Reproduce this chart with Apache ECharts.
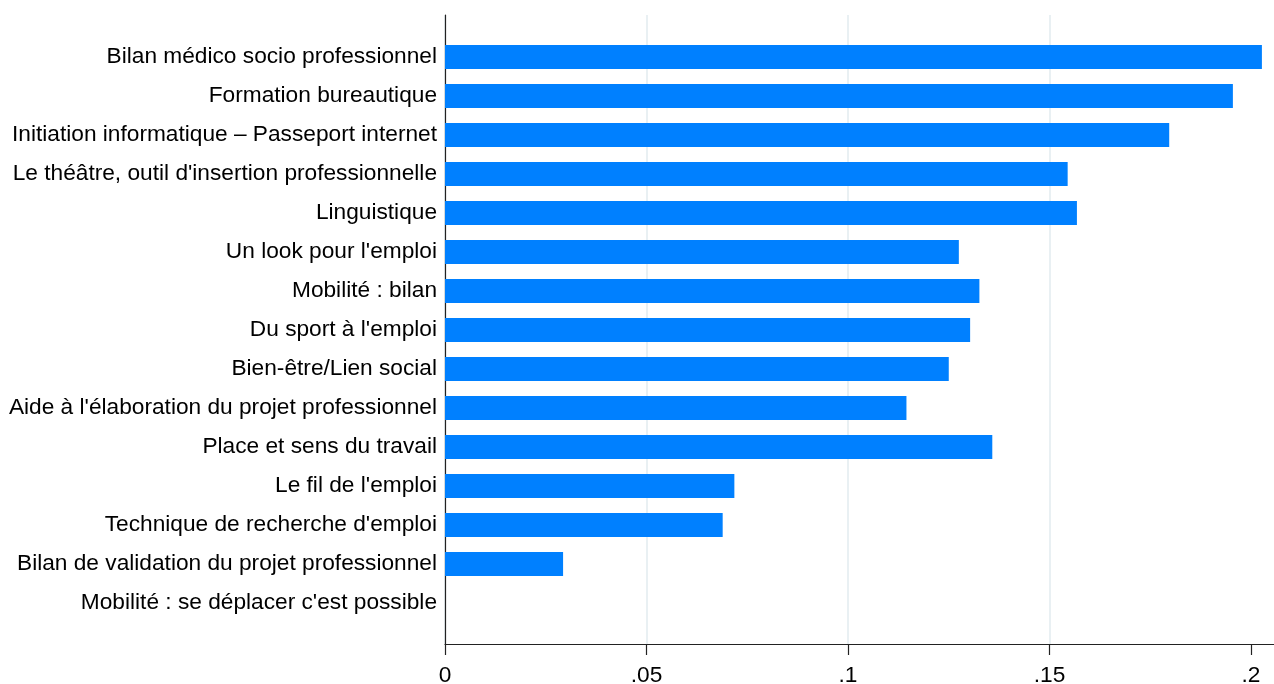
<!DOCTYPE html>
<html>
<head>
<meta charset="utf-8">
<script src="https://cdn.jsdelivr.net/npm/echarts@6/dist/echarts.min.js"></script>
<style>
html,body{margin:0;padding:0;background:#fff;}
#chart{width:1274px;height:684px;}
</style>
</head>
<body>
<div id="chart"></div>
<script>
const categories = [
  "Bilan médico socio professionnel",
  "Formation bureautique",
  "Initiation informatique – Passeport internet",
  "Le théâtre, outil d'insertion professionnelle",
  "Linguistique",
  "Un look pour l'emploi",
  "Mobilité : bilan",
  "Du sport à l'emploi",
  "Bien-être/Lien social",
  "Aide à l'élaboration du projet professionnel",
  "Place et sens du travail",
  "Le fil de l'emploi",
  "Technique de recherche d'emploi",
  "Bilan de validation du projet professionnel",
  "Mobilité : se déplacer c'est possible"
];
const values = [0.2027, 0.1955, 0.1797, 0.1545, 0.1568, 0.1275, 0.1326, 0.1303, 0.1250, 0.1145, 0.1358, 0.0718, 0.0689, 0.0293, 0];
const xTickValues = [0, 0.05, 0.1, 0.15, 0.2];
const xTickLabels = ["0", ".05", ".1", ".15", ".2"];

const X_MAX = 0.2057;
const FONT = "'Liberation Sans', Arial, sans-serif";

const chart = echarts.init(document.getElementById('chart'), null, {renderer: 'canvas'});
chart.setOption({
  animation: false,
  backgroundColor: '#ffffff',
  grid: [
    {left: 445, top: 37.5, width: 829, height: 585, containLabel: false, outerBoundsMode: 'none'},
    {left: 445, top: 15, width: 829, height: 629, containLabel: false, outerBoundsMode: 'none'}
  ],
  xAxis: [
    {
      gridIndex: 0, type: 'value', min: 0, max: X_MAX, show: false
    },
    {
      gridIndex: 1, type: 'value', min: 0, max: X_MAX, interval: 0.05,
      axisLine: {show: true, lineStyle: {color: '#222', width: 1.2}},
      axisTick: {show: true, length: 11, lineStyle: {color: '#222', width: 1.2}, customValues: xTickValues},
      axisLabel: {
        show: true, margin: 20, fontSize: 22.7, color: '#000', fontFamily: FONT,
        customValues: xTickValues,
        formatter: function (v) {
          const i = xTickValues.indexOf(v);
          return i >= 0 ? xTickLabels[i] : '';
        }
      },
      splitLine: {show: true, showMaxLine: false, lineStyle: {color: '#e9f0f3', width: 2}}
    }
  ],
  yAxis: [
    {
      gridIndex: 0, type: 'category', data: categories, inverse: true,
      axisLine: {show: false}, axisTick: {show: false},
      axisLabel: {show: true, margin: 8, fontSize: 22.7, color: '#000', fontFamily: FONT, padding: [4, 0, 0, 0]},
      splitLine: {show: false}
    },
    {
      gridIndex: 1, type: 'value', min: 0, max: 1,
      axisLine: {show: true, lineStyle: {color: '#222', width: 1.2}},
      axisTick: {show: false}, axisLabel: {show: false}, splitLine: {show: false}
    }
  ],
  series: [
    {
      type: 'bar', xAxisIndex: 0, yAxisIndex: 0,
      data: values, barWidth: 24,
      itemStyle: {color: '#0080ff'},
      z: 3
    }
  ]
});
</script>
</body>
</html>
